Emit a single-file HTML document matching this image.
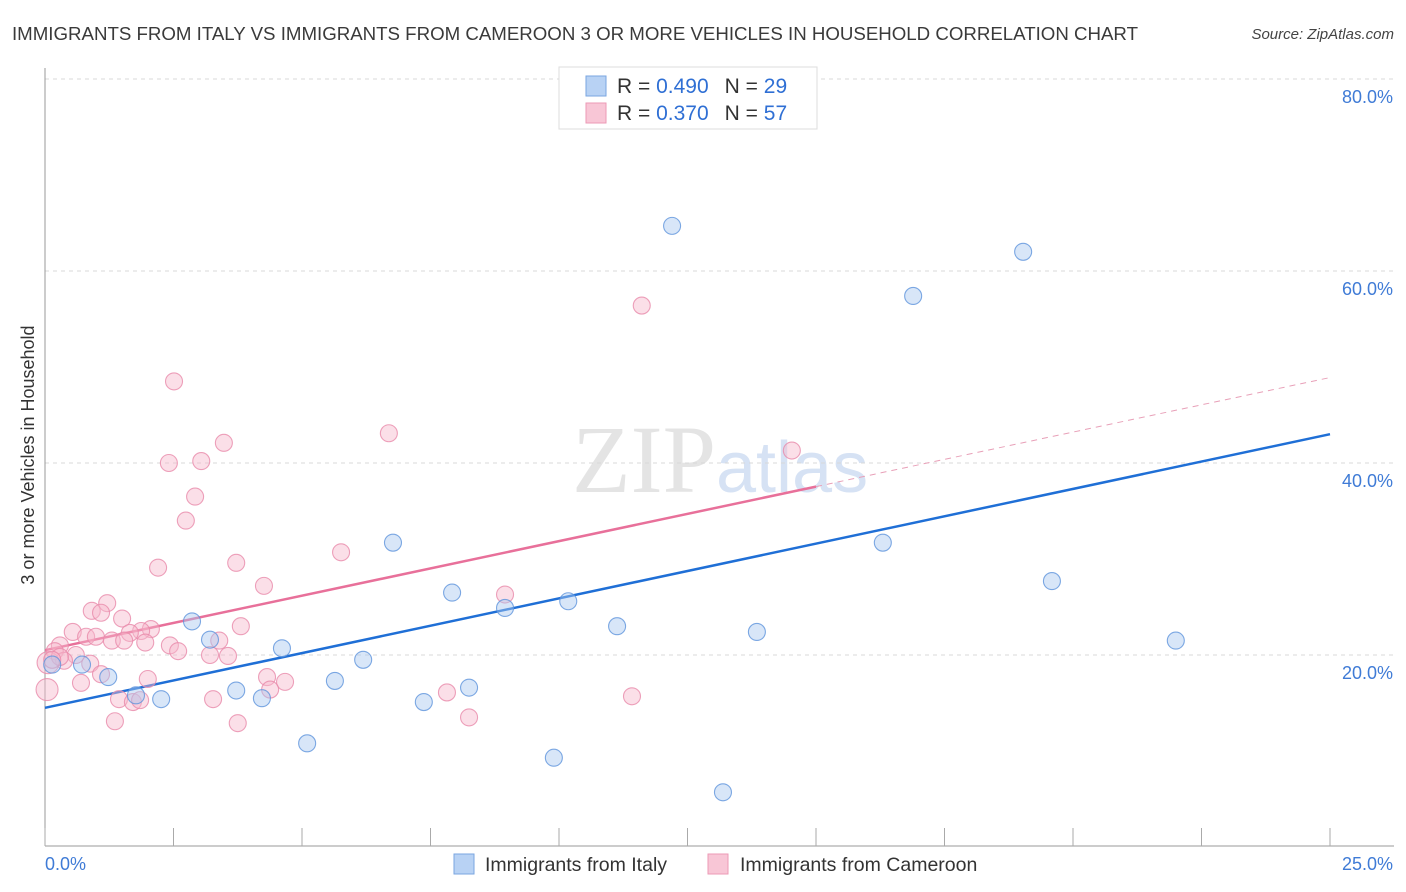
<!DOCTYPE html>
<html><head><meta charset="utf-8">
<style>
body{margin:0;background:#fff;font-family:"Liberation Sans",sans-serif;}
#wrap{position:relative;width:1406px;height:892px;overflow:hidden;}
</style></head>
<body>
<div id="wrap">
<svg id="svg" width="1406" height="892" xmlns="http://www.w3.org/2000/svg">
<text x="12" y="40" font-size="18.7" fill="#3a3a3a" textLength="1126">IMMIGRANTS FROM ITALY VS IMMIGRANTS FROM CAMEROON 3 OR MORE VEHICLES IN HOUSEHOLD CORRELATION CHART</text>
<text x="1394" y="39" font-size="15" fill="#444" font-style="italic" text-anchor="end">Source: ZipAtlas.com</text>
<text x="716" y="492" font-size="96" fill="#e4e4e4" text-anchor="end" font-family="Liberation Serif,serif">ZIP</text>
<text x="716" y="492" font-size="72" fill="#d6e2f4">atlas</text>
<g id="grid"></g>
<g id="axes"></g>
<g id="lines"></g>
<g id="pts"></g>
<text x="34" y="455" font-size="18" fill="#333" text-anchor="middle" transform="rotate(-90 34 455)">3 or more Vehicles in Household</text>
<g>
<rect x="559" y="67" width="258" height="62" fill="#fff" stroke="#ddd"/>
<rect x="586" y="76" width="20" height="20" fill="#b8d2f4" stroke="#7aa6e0"/>
<rect x="586" y="103" width="20" height="20" fill="#f8c6d6" stroke="#ec9ab6"/>
<text x="617" y="93" font-size="21" fill="#333">R = <tspan fill="#2f6fd4">0.490</tspan><tspan dx="16">N = </tspan><tspan fill="#2f6fd4">29</tspan></text>
<text x="617" y="120" font-size="21" fill="#333">R = <tspan fill="#2f6fd4">0.370</tspan><tspan dx="16">N = </tspan><tspan fill="#2f6fd4">57</tspan></text>
</g>
<g>
<rect x="454" y="854" width="20" height="20" fill="#b8d2f4" stroke="#7aa6e0"/>
<text x="485" y="871" font-size="19.5" fill="#333">Immigrants from Italy</text>
<rect x="708" y="854" width="20" height="20" fill="#f8c6d6" stroke="#ec9ab6"/>
<text x="740" y="871" font-size="19.5" fill="#333">Immigrants from Cameroon</text>
</g>
</svg>
</div>
<script>
const italyX=[12.20,19.03,16.89,6.77,16.30,19.59,7.92,8.95,10.18,11.13,13.85,22.00,2.86,3.21,4.61,6.19,5.64,8.25,7.37,3.72,4.22,2.26,1.77,1.23,0.72,0.14,5.10,9.90,13.19];
const italyY=[64.7,62.0,57.4,31.7,31.7,27.7,26.5,24.9,25.6,23.0,22.4,21.5,23.5,21.6,20.7,19.5,17.3,16.6,15.1,16.3,15.5,15.4,15.8,17.7,19.0,19.0,10.8,9.3,5.7];
const camX=[11.61,2.51,6.69,3.48,3.04,2.41,14.53,2.92,2.74,5.76,3.72,2.20,4.26,8.95,1.21,0.91,1.09,1.50,2.06,1.87,1.65,0.54,3.81,0.80,0.99,1.30,1.54,0.29,2.43,1.95,2.59,3.39,3.21,3.56,0.19,0.60,0.37,0.06,0.88,1.09,2.00,0.70,4.32,4.67,4.38,7.82,11.42,1.44,3.27,1.71,1.85,8.25,1.36,3.75,0.04,0.29,0.14];
const camY=[56.4,48.5,43.1,42.1,40.2,40.0,41.3,36.5,34.0,30.7,29.6,29.1,27.2,26.3,25.4,24.6,24.4,23.8,22.7,22.5,22.3,22.4,23.0,21.9,21.9,21.5,21.5,21.0,21.0,21.3,20.4,21.5,20.0,19.9,20.4,20.0,19.4,19.2,19.1,18.0,17.5,17.1,17.7,17.2,16.4,16.1,15.7,15.4,15.4,15.1,15.3,13.5,13.1,12.9,16.4,19.8,19.5];
const italyTrend=[14.5,43.0];
const camTrend=[20.5,48.9];
const camSolidEnd=15;
const yTicks=[20,40,60,80];
const xTickVals=[0,2.5,5,7.5,10,12.5,15,17.5,20,22.5,25];
const xLabels=["0.0%","25.0%"];

const NS="http://www.w3.org/2000/svg";
const sx=v=>45+v*51.4;
const sy=v=>847-v*9.6;
function mk(tag,attrs,parent){const e=document.createElementNS(NS,tag);for(const k in attrs)e.setAttribute(k,attrs[k]);document.getElementById(parent).appendChild(e);return e;}

yTicks.forEach(t=>{
  const l=mk('line',{x1:45,x2:1394,y1:sy(t),y2:sy(t),stroke:'#d8d8d8','stroke-dasharray':'4,4'},'grid');
  
  
  const tx=mk('text',{x:1393,y:sy(t)+24,'font-size':18,fill:'#3f7bd6','text-anchor':'end'},'grid');
  tx.textContent=t.toFixed(1)+'%';
  
  
});
let a=mk('line',{x1:45,x2:45,y1:68,y2:846,stroke:'#999'},'axes');


a=mk('line',{x1:45,x2:1394,y1:846,y2:846,stroke:'#999'},'axes');


xTickVals.forEach(t=>{
  const l=mk('line',{x1:sx(t),x2:sx(t),y1:828,y2:846,stroke:'#aaa'},'axes');
  
  
});
let t1=mk('text',{x:45,y:870,'font-size':18,fill:'#3f7bd6'},'axes');t1.textContent=xLabels[0];


let t2=mk('text',{x:1393,y:870,'font-size':18,fill:'#3f7bd6','text-anchor':'end'},'axes');t2.textContent=xLabels[1];



function pts(X,Y,fill,stroke,name){
  X.forEach((x,i)=>{
    const r=(x<0.1)?11:8.5;
    const c=mk('circle',{cx:sx(x),cy:sy(Y[i]),r:r,fill:fill,'fill-opacity':0.45,stroke:stroke,'stroke-opacity':0.8,'stroke-width':1.1},'pts');
    
    
  });
}
pts(camX,camY,'#f6b8cc','#e88aaa','cameroon-point');
pts(italyX,italyY,'#a8c8f0','#5e93dc','italy-point');

const camAt=x=>camTrend[0]+(camTrend[1]-camTrend[0])*x/25;
let l=mk('line',{x1:sx(0),y1:sy(italyTrend[0]),x2:sx(25),y2:sy(italyTrend[1]),stroke:'#1f6fd6','stroke-width':2.5},'lines');


l=mk('line',{x1:sx(0),y1:sy(camAt(0)),x2:sx(camSolidEnd),y2:sy(camAt(camSolidEnd)),stroke:'#e8709a','stroke-width':2.5},'lines');


l=mk('line',{x1:sx(camSolidEnd),y1:sy(camAt(camSolidEnd)),x2:sx(25),y2:sy(camAt(25)),stroke:'#e8a0b8','stroke-width':1,'stroke-dasharray':'6,5'},'lines');


</script>
</body></html>
